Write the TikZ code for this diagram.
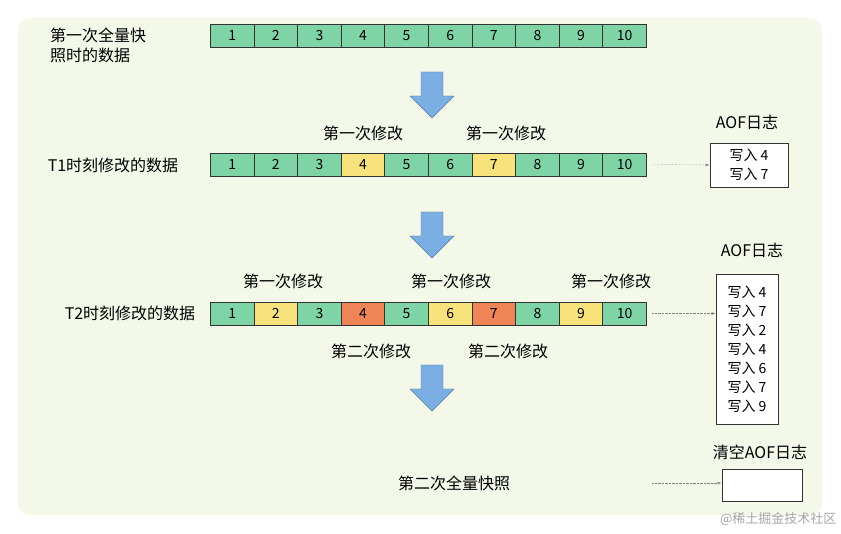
\documentclass[tikz,border=0pt]{standalone}
\usepackage{fontspec}
\setmainfont{Noto Sans CJK SC}
\definecolor{bg}{HTML}{F3F8E9}
\definecolor{cg}{HTML}{7FD4A6}
\definecolor{cy}{HTML}{F8E27C}
\definecolor{co}{HTML}{EF8456}
\definecolor{ab}{HTML}{7BAFE3}
\tikzset{
 cell/.style={draw=black!80,line width=0.8pt,minimum width=43.6pt,minimum height=23pt,inner sep=0pt,font=\fontsize{14}{14}\selectfont,anchor=west},
 lbl/.style={font=\fontsize{16}{20}\selectfont,inner sep=0pt},
 logbox/.style={draw=black!80,line width=0.8pt,fill=white,inner sep=2pt,font=\fontsize{14}{19}\selectfont,align=center},
 dotarr/.style={densely dotted,gray,-latex},
 barrowfill/.style={fill=ab,draw=ab!70!black,line width=0.4pt}
}
\newcommand{\blockarrow}[2]{\draw[barrowfill] (#1-11,#2) -- (#1+11,#2) -- (#1+11,#2+24) -- (#1+22,#2+24) -- (#1,#2+46) -- (#1-22,#2+24) -- (#1-11,#2+24) -- cycle;}
\begin{document}
\begin{tikzpicture}[x=1pt,y=-1pt]
\useasboundingbox (0,0) rectangle (841,534);
\fill[white] (0,0) rectangle (841,534);
\fill[bg,rounded corners=12pt] (18,18) rectangle (822,515);
% row 1
\foreach \i in {1,...,10}{\node[cell,fill=cg] (a\i) at ({210+43.6*(\i-1)},35.5) {\i};}
\node[lbl,align=left,anchor=west] (t0) at (50,45) {第一次全量快\\照时的数据};
\blockarrow{432}{72}
% row 2
\foreach \i/\c in {1/cg,2/cg,3/cg,4/cy,5/cg,6/cg,7/cy,8/cg,9/cg,10/cg}{\node[cell,fill=\c] (b\i) at ({210+43.6*(\i-1)},164.5) {\i};}
\node[lbl] (t1) at (113,165) {T1时刻修改的数据};
\node[lbl] (m1) at (363,133) {第一次修改};
\node[lbl] (m2) at (506,133) {第一次修改};
\node[lbl] (l1) at (747,122) {AOF日志};
\node[logbox,minimum width=78pt,minimum height=44pt] (g1) at (749,165) {写入 4\\写入 7};
\draw[dotarr] (b10.east)++(6,0) -- (g1.west);
\blockarrow{432}{212}
% row 3
\foreach \i/\c in {1/cg,2/cy,3/cg,4/co,5/cg,6/cy,7/co,8/cg,9/cy,10/cg}{\node[cell,fill=\c] (c\i) at ({210+43.6*(\i-1)},313.5) {\i};}
\node[lbl] (t2) at (130,313) {T2时刻修改的数据};
\node[lbl] (n1) at (283,281) {第一次修改};
\node[lbl] (n2) at (451,281) {第一次修改};
\node[lbl] (n3) at (611,281) {第一次修改};
\node[lbl] (s1) at (371,351) {第二次修改};
\node[lbl] (s2) at (508,351) {第二次修改};
\node[lbl] (l2) at (752,250) {AOF日志};
\node[logbox,minimum width=62pt,minimum height=150pt] (g2) at (747,349) {写入 4\\写入 7\\写入 2\\写入 4\\写入 6\\写入 7\\写入 9};
\coordinate (r3) at (652,313.5);
\draw[dotarr] (r3) -- (g2.west |- r3);
\blockarrow{432}{365}
% final
\node[lbl] (f) at (454,483) {第二次全量快照};
\node[lbl] (l3) at (760,452) {清空AOF日志};
\node[logbox,minimum width=80pt,minimum height=32pt] (g3) at (762,485) {};
\coordinate (fs) at (652,483);
\draw[dotarr] (fs) -- (g3.west |- fs);
\node[font=\fontsize{13}{13}\selectfont,text=black!35,anchor=east] (wm) at (840,519) {@稀土掘金技术社区};
\end{tikzpicture}
\end{document}
